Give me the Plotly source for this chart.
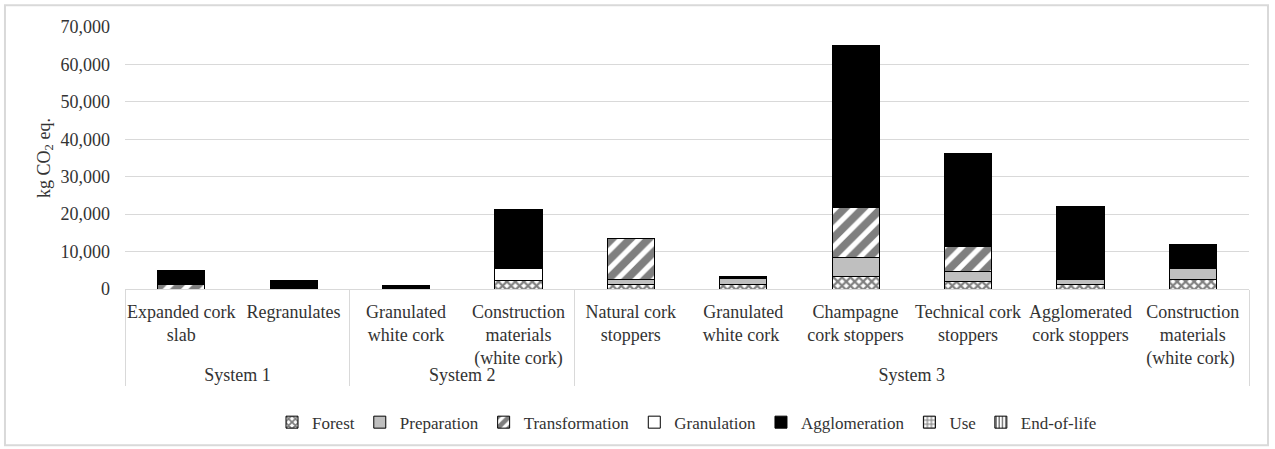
import plotly.graph_objects as go

systems = ["System 1", "System 1", "System 2", "System 2", "System 3",
           "System 3", "System 3", "System 3", "System 3", "System 3"]
products = ["Expanded cork<br>slab", "Regranulates", "Granulated<br>white cork",
            "Construction<br>materials<br>(white cork)", "Natural cork<br>stoppers",
            "Granulated<br>white cork ", "Champagne<br>cork stoppers",
            "Technical cork<br>stoppers", "Agglomerated<br>cork stoppers",
            "Construction<br>materials<br>(white cork) "]

forest = [0, 0, 0, 2400, 1100, 1100, 3350, 2000, 1330, 2470]
preparation = [0, 0, 0, 0, 1550, 1600, 5050, 2680, 1330, 3120]
transformation = [1100, 0, 0, 0, 10900, 0, 13400, 6650, 0, 0]
granulation = [150, 0, 0, 3180, 0, 0, 0, 0, 0, 0]
agglomeration = [3650, 2200, 850, 15720, 0, 600, 43350, 24840, 19490, 6380]
use = [0, 0, 0, 0, 0, 0, 0, 0, 0, 0]
end_of_life = [0, 0, 0, 0, 0, 0, 0, 0, 0, 0]

series = [
    ("Forest", forest, dict(color="white", pattern=dict(shape="x", fgcolor="black", bgcolor="white", size=6, solidity=0.6))),
    ("Preparation", preparation, dict(color="#bfbfbf")),
    ("Transformation", transformation, dict(color="white", pattern=dict(shape="/", fgcolor="black", bgcolor="white", size=13, solidity=0.6))),
    ("Granulation", granulation, dict(color="white")),
    ("Agglomeration", agglomeration, dict(color="black")),
    ("Use", use, dict(color="white", pattern=dict(shape="+", fgcolor="black", bgcolor="white", size=5, solidity=0.5))),
    ("End-of-life", end_of_life, dict(color="white", pattern=dict(shape="|", fgcolor="black", bgcolor="white", size=4, solidity=0.5))),
]

fig = go.Figure()
x = [systems, products]
for name, vals, marker in series:
    m = dict(marker)
    m["line"] = dict(color="black", width=1)
    fig.add_trace(go.Bar(name=name, x=x, y=vals, marker=m))

font_family = "Liberation Serif, serif"
fig.update_layout(
    barmode="stack",
    bargap=0.58,
    width=1275, height=449,
    margin=dict(l=125, r=26, t=27, b=160, autoexpand=False),
    paper_bgcolor="white", plot_bgcolor="white",
    font=dict(family=font_family, size=18, color="#333333"),
    showlegend=True,
    legend=dict(orientation="h", x=0.5, xanchor="center", y=-0.51, yanchor="middle",
                font=dict(family=font_family, size=17), traceorder="normal", itemwidth=30),
    xaxis=dict(type="multicategory", showline=True, linecolor="#d9d9d9", linewidth=1,
               showdividers=True, dividercolor="#d9d9d9", dividerwidth=1, tickangle=0,
               tickfont=dict(family=font_family, size=18), ticks="", ticklabelstandoff=6),
    yaxis=dict(range=[0, 70000], dtick=10000, tickformat=",", showgrid=True,
               gridcolor="#d9d9d9", gridwidth=1, zeroline=False, showline=False,
               tickfont=dict(family=font_family, size=18), ticks="", ticklabelstandoff=14,
               title=dict(text="kg CO<sub>2</sub> eq.", font=dict(family=font_family, size=18), standoff=5)),
)
fig.add_shape(type="rect", xref="paper", yref="paper", x0=-0.1068, x1=1.0169, y0=-0.5967, y1=1.0827,
              line=dict(color="#d9d9d9", width=2), fillcolor="rgba(0,0,0,0)", layer="below")

fig.write_html("out.html")
